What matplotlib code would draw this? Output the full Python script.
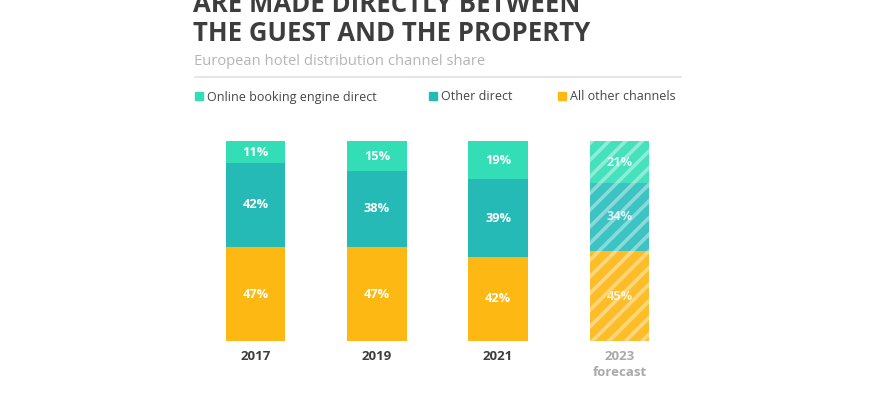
import matplotlib
matplotlib.use("Agg")
import matplotlib.pyplot as plt
import numpy as np

years = ["2017", "2019", "2021", "2023\nforecast"]
online_booking = [11, 15, 19, 21]
other_direct = [42, 38, 39, 34]
all_other = [47, 47, 42, 45]
series_names = ["Online booking engine direct", "Other direct", "All other channels"]

C_MINT = "#33DDB6"
C_TEAL = "#26BAB7"
C_YEL = "#FDB813"
C_MINT_F = "#45E0BC"
C_TEAL_F = "#3CC3C2"
C_YEL_F = "#FDBD28"

plt.rcParams["font.family"] = ["Open Sans", "DejaVu Sans"]
plt.rcParams["hatch.linewidth"] = 2.6

fig = plt.figure(figsize=(8.7, 4.0), dpi=100)
fig.patch.set_facecolor("white")

W, H = 870, 400
def fx(px): return px / W
def fy(py): return 1 - py / H

# Title
fig.text(fx(193), fy(12), "ARE MADE DIRECTLY BETWEEN", fontsize=18.5, fontweight="bold",
         color="#3d3d3d", va="baseline", ha="left")
fig.text(fx(193), fy(41), "THE GUEST AND THE PROPERTY", fontsize=18.5, fontweight="bold",
         color="#3d3d3d", va="baseline", ha="left")
fig.text(fx(194), fy(65), "European hotel distribution channel share", fontsize=10.6,
         color="#b5b5b5", va="baseline", ha="left")
fig.add_artist(plt.Line2D([fx(195), fx(681)], [fy(77), fy(77)], color="#e2e2e2", lw=1.2))

# Legend
leg_items = [(195, C_MINT, series_names[0]), (429, C_TEAL, series_names[1]), (558, C_YEL, series_names[2])]
for px, col, name in leg_items:
    fig.add_artist(plt.Rectangle((fx(px), fy(100)), fx(8), 8 / H, color=col, transform=fig.transFigure))
    fig.text(fx(px + 12), fy(100.5), name, fontsize=9.0, color="#454545", va="baseline", ha="left")

ax = fig.add_axes([fx(195), fy(341), fx(485), 200 / H])
x = np.arange(len(years))
ax.set_xlim(-0.5, 3.5)
ax.set_ylim(0, 100)

bottoms = np.zeros(len(years))
for vals, col, colf in [(all_other, C_YEL, C_YEL_F), (other_direct, C_TEAL, C_TEAL_F), (online_booking, C_MINT, C_MINT_F)]:
    vals = np.array(vals, dtype=float)
    for i in range(len(years)):
        forecast = i == len(years) - 1
        ax.bar(x[i], vals[i], bottom=bottoms[i], width=0.49,
               color=colf if forecast else col,
               hatch="//" if forecast else None,
               edgecolor=(1, 1, 1, 0.4) if forecast else col,
               linewidth=0)
        ax.text(x[i], bottoms[i] + vals[i] / 2, f"{int(vals[i])}%", ha="center", va="center",
                fontsize=9.2, fontweight="bold",
                color=(1, 1, 1, 0.8) if forecast else "white")
    bottoms += vals

for s in ax.spines.values():
    s.set_visible(False)
ax.set_yticks([])
ax.set_xticks([])
for i, lab in enumerate(years):
    forecast = i == len(years) - 1
    ax.text(x[i], -4.5, lab, ha="center", va="top", fontsize=9.5, fontweight="bold",
            color="#a9a9a9" if forecast else "#3d3d3d", linespacing=1.3,
            transform=ax.transData, clip_on=False)

fig.savefig("out.png", dpi=100, facecolor="white")
